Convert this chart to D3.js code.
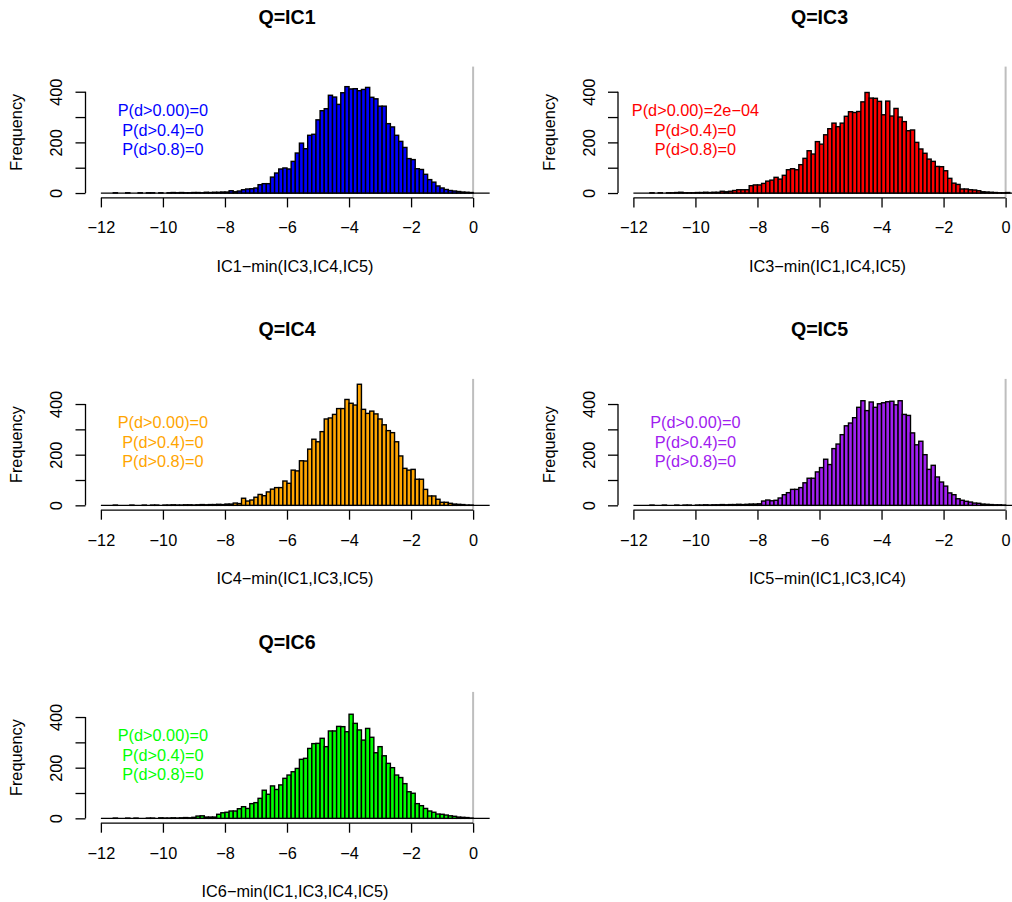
<!DOCTYPE html>
<html><head><meta charset="utf-8">
<script src="https://cdn.jsdelivr.net/npm/d3@7"></script>
<style>body{margin:0;background:#fff}svg{display:block}</style>
</head><body>
<script>
// ---------------- data ----------------
const panelNames = ["IC1", "IC3", "IC4", "IC5", "IC6"];
const titles = ["Q=IC1", "Q=IC3", "Q=IC4", "Q=IC5", "Q=IC6"];
const xLabels = ["IC1\u2212min(IC3,IC4,IC5)", "IC3\u2212min(IC1,IC4,IC5)", "IC4\u2212min(IC1,IC3,IC5)",
                 "IC5\u2212min(IC1,IC3,IC4)", "IC6\u2212min(IC1,IC3,IC4,IC5)"];
const statLabels = [
  ["P(d>0.00)=0", "P(d>0.4)=0", "P(d>0.8)=0"],
  ["P(d>0.00)=2e\u221204", "P(d>0.4)=0", "P(d>0.8)=0"],
  ["P(d>0.00)=0", "P(d>0.4)=0", "P(d>0.8)=0"],
  ["P(d>0.00)=0", "P(d>0.4)=0", "P(d>0.8)=0"],
  ["P(d>0.00)=0", "P(d>0.4)=0", "P(d>0.8)=0"]
];
const statX = -10, statY = 250;          // data coordinates of the annotation
const binStart = -12, binWidth = 2 / 15; // histogram breaks
const countsIC1 = [
  0,0,0,1,0,0,1,0,0,1, 0,1,1,0,1,0,1,2,1,2, 1,1,2,2,1,3,2,3,3,4,
  4,9,5,8,13,16,17,20,33,37, 37,63,79,95,99,95,125,158,197,175, 228,232,289,325,333,386,379,350,396,420,
  411,412,404,409,417,378,372,343,343,274, 261,228,204,180,136,132,96,93,74,53, 43,28,20,14,10,8,6,4,3,2, 0,0,0,0];
const countsIC3 = [
  0,0,0,0,1,0,1,0,1,1, 2,3,1,1,1,2,2,3,2,3,
  3,7,5,7,10,13,13,13,29,32, 32,38,47,51,62,55,70,92,96,92, 112,137,167,154,203,193,230,254,276,262, 276,303,321,318,322,360,397,375,374,362,
  309,363,304,334,300,282,246,249,200,174, 157,134,125,105,104,88,58,39,34,16, 16,13,12,9,5,4,3,2,1,1, 2,0,0,0];
const countsIC4 = [
  0,0,0,1,0,0,0,1,0,0, 1,0,1,1,0,1, 1,2,1,1,2,2,1,2,3,2,3,3,4,3,5,
  5,9,7,28,17,21,32,43,38,53, 64,70,70,96,87,139,136,176,175,222, 261,251,291,341,345,359,382,382,418,
  403,396,478,379,363,372,361,341,318,295, 287,251,195,146,139,142,103,103,63,37, 37,24,12,12,8,5,4,3,1,1, 0,0,0,0];
const countsIC5 = [
  0,0,0,0,1,0,0,1,0,0, 1,0,1,1,0, 1,1,2,1,2,2,3,2,3,3,4,3,4,5,5,
  6,17,21,18,20,29,42,50,63,63, 70,89,107,107,132,149,182,161,224,242, 279,314,325,346,387,413,374,408,387,401,
  405,409,411,397,413,359,355,286,239,253, 200,142,158,112,92,76,49,42,26,20, 16,13,9,8,5,4,3,2,2,1, 0,0,0,0];
const countsIC6 = [
  0,0,0,1,0,0,1,0,1,0, 0,1,1,0,2,1,1,2,1,2, 3,2,4,
  9,10,5,5,5,16,22,24,29,29, 38,46,39,58,62,79,111,95,128,114, 132,158,171,184,197,233,237,276,295,296, 316,283,345,345,363,362,342,
  411,375,349,309,355,320,259,283,247,217, 200,171,161,137,105,99,58,50,39,29, 24,17,16,13,10,8,5,4,3,1, 0,0,0,0];
const seriesCounts = [countsIC1, countsIC3, countsIC4, countsIC5, countsIC6];
const panelColors = ["#0000FF", "#FF0000", "#FFA500", "#A020F0", "#00FF00"];
const xTicks = [-12, -10, -8, -6, -4, -2, 0];
const yTicks = [0, 100, 200, 300, 400];
const yTickLabels = ["0", "", "200", "", "400"];
const xLim = [-12, 0], yLim = [0, 480], vLineAt = 0;

// ---------------- layout ----------------
const W = 1012, H = 902;
const colLeft = [86, 618.5];
const rowBottom = [197.9, 510.2, 823.2];
const plotW = 402, plotH = 131.3;
const font = "'Liberation Sans', Arial, Helvetica, sans-serif";
const fs = 16.3;

const svg = d3.select("body").append("svg").attr("width", W).attr("height", H)
  .style("background", "#fff");

panelNames.forEach((name, p) => {
  const col = p % 2, row = Math.floor(p / 2);
  const L = colLeft[col], B = rowBottom[row];
  const xr = (xLim[1] - xLim[0]) * 0.04, yr = (yLim[1] - yLim[0]) * 0.04;
  const x = d3.scaleLinear().domain([xLim[0] - xr, xLim[1] + xr]).range([L, L + plotW]);
  const y = d3.scaleLinear().domain([yLim[0] - yr, yLim[1] + yr]).range([B, B - plotH]);
  const g = svg.append("g").attr("class", "panel-" + name);
  const color = panelColors[p];
  const counts = seriesCounts[p];
  const bins = counts.map((c, i) => ({x0: binStart + i * binWidth, x1: binStart + (i + 1) * binWidth, c}));

  // grey reference line
  g.append("line").attr("x1", x(vLineAt)).attr("x2", x(vLineAt))
    .attr("y1", y.range()[1]).attr("y2", y.range()[0])
    .attr("stroke", "#bebebe").attr("stroke-width", 2);

  // zero-height bins baseline
  g.append("line").attr("x1", x(bins[0].x0)).attr("x2", x(bins[bins.length - 1].x1))
    .attr("y1", y(0)).attr("y2", y(0)).attr("stroke", "#000").attr("stroke-width", 1.3);

  // bars
  g.selectAll("rect.bar").data(bins.filter(b => b.c > 0)).join("rect")
    .attr("class", "bar")
    .attr("x", d => x(d.x0)).attr("width", d => x(d.x1) - x(d.x0))
    .attr("y", d => y(d.c)).attr("height", d => y(0) - y(d.c))
    .attr("fill", color).attr("stroke", "#000").attr("stroke-width", 1.4);

  // x axis
  const xa = g.append("g").attr("transform", `translate(0,${B})`)
    .call(d3.axisBottom(x).tickValues(xTicks).tickSize(9.5).tickSizeOuter(0)
      .tickFormat(d => d < 0 ? "\u2212" + Math.abs(d) : String(d)));
  xa.select(".domain").remove();
  xa.append("line").attr("x1", x(xTicks[0])).attr("x2", x(xTicks[xTicks.length - 1]))
    .attr("y1", 0).attr("y2", 0).attr("stroke", "#000").attr("stroke-width", 1.3);
  xa.selectAll(".tick line").attr("stroke", "#000").attr("stroke-width", 1.3);
  xa.selectAll(".tick text").attr("y", 35.6).attr("dy", null)
    .attr("fill", "#000").style("font-family", font).style("font-size", fs + "px");

  // y axis
  const ya = g.append("g").attr("transform", `translate(${L - 0.5},0)`)
    .call(d3.axisLeft(y).tickValues(yTicks).tickSize(10).tickSizeOuter(0)
      .tickFormat((d, i) => yTickLabels[i]));
  ya.select(".domain").remove();
  ya.append("line").attr("x1", 0).attr("x2", 0)
    .attr("y1", y(yTicks[0])).attr("y2", y(yTicks[yTicks.length - 1]))
    .attr("stroke", "#000").attr("stroke-width", 1.3);
  ya.selectAll(".tick line").attr("stroke", "#000").attr("stroke-width", 1.3);
  ya.selectAll(".tick text").attr("x", null).attr("dy", null)
    .attr("text-anchor", "middle").attr("transform", "translate(-23.5,0) rotate(-90)")
    .attr("fill", "#000").style("font-family", font).style("font-size", fs + "px");

  const cx = L + plotW / 2;
  // title
  svg.append("text").attr("x", cx).attr("y", B - 4.9 - 169)
    .attr("text-anchor", "middle").style("font-family", font)
    .style("font-size", "19.6px").style("font-weight", "bold").text(titles[p]);
  // x label
  svg.append("text").attr("x", cx + 8).attr("y", B + 74)
    .attr("text-anchor", "middle").style("font-family", font)
    .style("font-size", fs + "px").text(xLabels[p]);
  // y label
  svg.append("text").attr("transform", `translate(${L - 64},${B - plotH / 2}) rotate(-90)`)
    .attr("text-anchor", "middle").style("font-family", font)
    .style("font-size", fs + "px").text("Frequency");
  // stats annotation
  const midBase = y(statY) + 0.358 * fs;
  statLabels[p].forEach((t, i) => {
    svg.append("text").attr("x", x(statX)).attr("y", midBase + (i - 1) * 19.6)
      .attr("text-anchor", "middle").attr("fill", color)
      .style("font-family", font).style("font-size", fs + "px").text(t);
  });
});
</script>
</body></html>
